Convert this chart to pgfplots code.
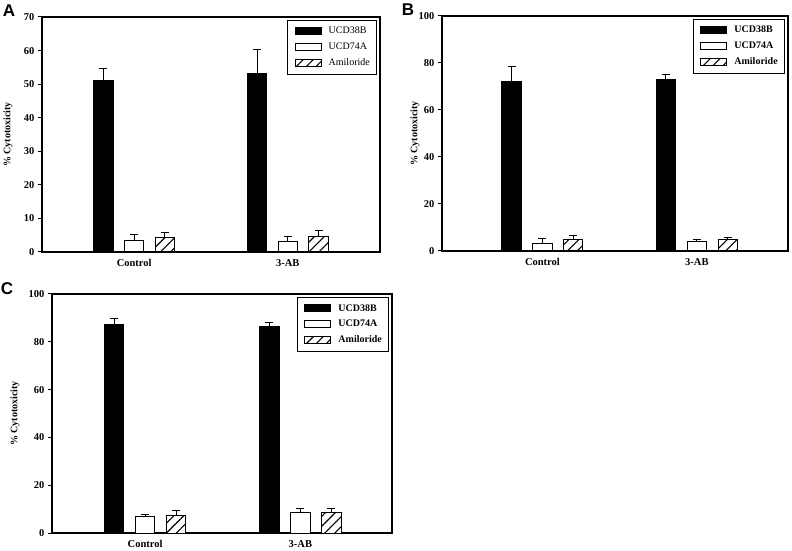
\documentclass[border=0pt]{standalone}
\usepackage{fontspec}
\setmainfont{Liberation Serif}
\setsansfont{Liberation Sans}
\usepackage{pgfplots}
\pgfplotsset{compat=1.18}
\usetikzlibrary{patterns.meta}

\pgfplotsset{
  panel/.style={
    scale only axis,
    xmin=-0.6, xmax=1.6, ymin=0,
    xtick={0,1}, xticklabels={Control,3-AB},
    major x tick style={draw=none},
    ytick pos=left, tick align=outside, major tick length=4pt,
    axis line style={line width=1.1pt},
    tick style={line width=1pt, black},
    ticklabel style={font=\bfseries\fontsize{10.5}{12}\selectfont},
    /pgf/number format/assume math mode=true,
    ylabel={\% Cytotoxicity},
    every axis y label/.style={at={(axis description cs:0,0.5)}, rotate=90, anchor=center,
                               font=\bfseries\fontsize{10}{12}\selectfont},
    legend style={at={(0.992,0.988)}, anchor=north east, draw=black,
                  line width=1pt, font=\fontsize{10}{11}\selectfont,
                  row sep=3.5pt, inner xsep=5pt, inner ysep=5pt},
    legend cell align=left,
    legend image code/.code={\draw[#1] (0pt,-3.5pt) rectangle (26pt,3.5pt);
                             \path (-2pt,0pt) (31pt,0pt);},
  },
  errbar/.style={ybar, bar width=0.125, bar shift=0pt, draw=black, line width=1pt,
    /pgfplots/error bars/y dir=plus, /pgfplots/error bars/y explicit,
    /pgfplots/error bars/error bar style={line width=1pt, black},
    /pgfplots/error bars/error mark options={rotate=90, mark size=4pt, line width=1pt, black}},
  sBlack/.style={errbar, /tikz/fill=black},
  sWhite/.style={errbar, /tikz/fill=white},
  sHatch/.style={errbar, /tikz/fill=white, /tikz/postaction={pattern={Lines[angle=45,distance=7pt,line width=1.1pt]}}},
}

\begin{document}
\begin{tikzpicture}[x=1pt,y=1pt]
\useasboundingbox (0,0) rectangle (792,551);

% panel A
\begin{axis}[panel, at={(42pt,299pt)}, anchor=south west, width=338pt, height=235pt,
  ymax=70, ytick={0,10,...,70}, ylabel style={yshift=34pt}]
\addplot[sBlack] coordinates {(-0.2,51.2) +- (0,3.5) (0.8,53.2) +- (0,7.0)};
\addplot[sWhite] coordinates {(0,3.4) +- (0,1.9) (1,3.1) +- (0,1.5)};
\addplot[sHatch] coordinates {(0.2,4.4) +- (0,1.5) (1.2,4.6) +- (0,1.7)};
\legend{UCD38B,UCD74A,Amiloride}
\end{axis}

% panel B
\begin{axis}[panel, at={(442pt,300pt)}, anchor=south west, width=346pt, height=235pt,
  xmin=-0.65, xmax=1.59, ymax=100, ytick={0,20,...,100}, ylabel style={yshift=27pt},
  legend style={font=\bfseries\fontsize{10}{11}\selectfont}]
\addplot[sBlack] coordinates {(-0.2,72.0) +- (0,6.4) (0.8,72.8) +- (0,2.1)};
\addplot[sWhite] coordinates {(0,3.3) +- (0,2.1) (1,4.0) +- (0,1.0)};
\addplot[sHatch] coordinates {(0.2,4.7) +- (0,1.8) (1.2,5.1) +- (0,0.7)};
\legend{UCD38B,UCD74A,Amiloride}
\end{axis}

% panel C
\begin{axis}[panel, at={(52pt,18pt)}, anchor=south west, width=340pt, height=239pt,
  xmin=-0.6, xmax=1.59, ymax=100, ytick={0,20,...,100}, ylabel style={yshift=37pt},
  legend style={font=\bfseries\fontsize{10}{11}\selectfont}]
\addplot[sBlack] coordinates {(-0.2,87.4) +- (0,2.4) (0.8,86.3) +- (0,1.9)};
\addplot[sWhite] coordinates {(0,6.8) +- (0,1.1) (1,8.5) +- (0,1.7)};
\addplot[sHatch] coordinates {(0.2,7.5) +- (0,2.1) (1.2,8.5) +- (0,1.7)};
\legend{UCD38B,UCD74A,Amiloride}
\end{axis}

\node[font=\sffamily\bfseries\fontsize{17}{17}\selectfont] at (9,540) {A};
\node[font=\sffamily\bfseries\fontsize{17}{17}\selectfont] at (408,541) {B};
\node[font=\sffamily\bfseries\fontsize{17}{17}\selectfont] at (7,262) {C};
\end{tikzpicture}
\end{document}
